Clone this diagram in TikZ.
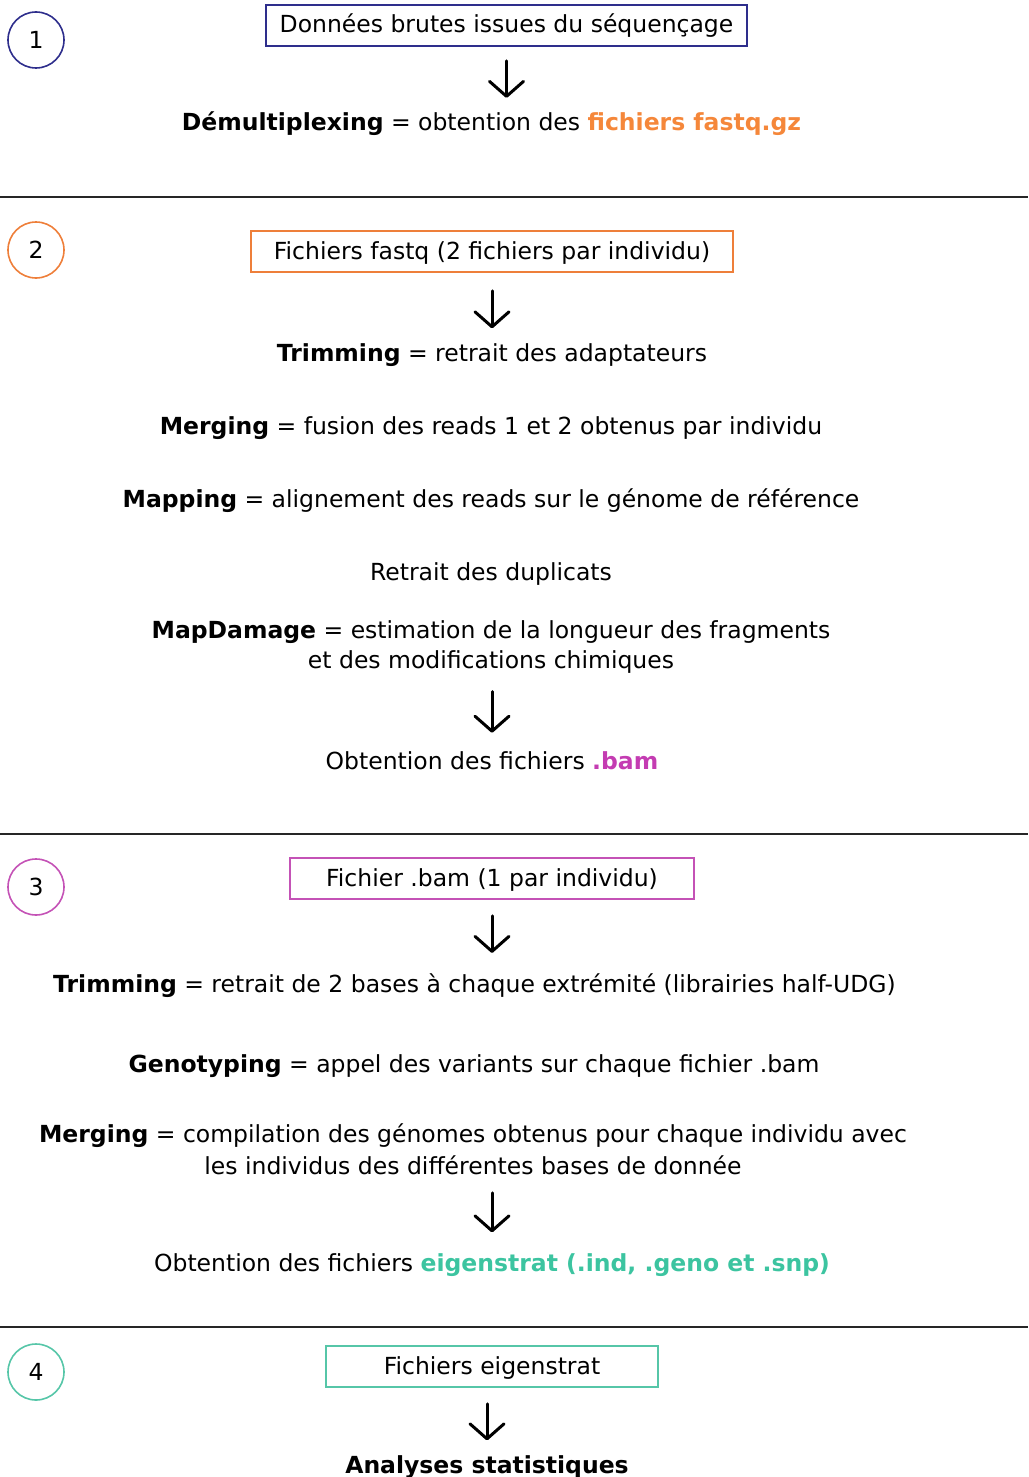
\documentclass[tikz,border=0pt]{standalone}
\usepackage{fontspec}
\setmainfont{DejaVu Sans}
\usetikzlibrary{arrows.meta}
\definecolor{cnavy}{HTML}{2E2E8C}
\definecolor{corange}{HTML}{EE7F3A}
\definecolor{cmag}{HTML}{C452B6}
\definecolor{cteal}{HTML}{56C6A8}
\definecolor{torange}{HTML}{F5873A}
\definecolor{tmag}{HTML}{C43CB2}
\definecolor{tteal}{HTML}{3CC4A0}
\tikzset{
  lab/.style={font=\fontsize{23.5}{30}\selectfont, inner sep=0pt, align=center},
  stagebox/.style={lab, draw, line width=1.6pt, minimum height=41pt, inner xsep=13pt, text height=19pt, text depth=4pt},
  num/.style={circle, draw, line width=1.6pt, minimum size=56pt, inner sep=0pt, font=\fontsize{23.5}{30}\selectfont},
  arr/.style={line width=3pt, line cap=round, -{Straight Barb[length=15pt,width=34pt,round]}},
  sep/.style={line width=1.4pt, draw=black!85}
}
\begin{document}
\begin{tikzpicture}[x=1pt,y=-1pt]
\useasboundingbox (0,0) rectangle (1028,1477);
% separators
\coordinate (l1a) at (0,197); \coordinate (l1b) at (1028,197);
\coordinate (l2a) at (0,834); \coordinate (l2b) at (1028,834);
\coordinate (l3a) at (0,1327); \coordinate (l3b) at (1028,1327);
\draw[sep] (l1a) -- (l1b);
\draw[sep] (l2a) -- (l2b);
\draw[sep] (l3a) -- (l3b);
% section 1
\node[num, draw=cnavy] (c1) at (36,40) {1};
\node[stagebox, draw=cnavy, minimum width=481pt] (b1) at (506.5,25.5) {Données brutes issues du séquençage};
\node[lab] (d1) at (491.5,124) {\textbf{Démultiplexing} = obtention des \textcolor{torange}{\textbf{fichiers fastq.gz}}};
\draw[arr, shorten <=14pt, shorten >=14pt] (b1.south) -- (b1.south |- d1.north);
% section 2
\node[num, draw=corange] (c2) at (36,250) {2};
\node[stagebox, draw=corange, minimum width=482pt] (b2) at (492,251.5) {Fichiers fastq (2 fichiers par individu)};
\node[lab] (t2) at (492,355) {\textbf{Trimming} = retrait des adaptateurs};
\node[lab] (m2) at (491,428) {\textbf{Merging} = fusion des reads 1 et 2 obtenus par individu};
\node[lab] (p2) at (491,501) {\textbf{Mapping} = alignement des reads sur le génome de référence};
\node[lab] (r2) at (491,574) {Retrait des duplicats};
\node[lab] (md) at (491,647) {\textbf{MapDamage} = estimation de la longueur des fragments\\et des modifications chimiques};
\node[lab] (bam) at (492,761) {Obtention des fichiers \textcolor{tmag}{\textbf{.bam}}};
\draw[arr, shorten <=18pt, shorten >=15pt] (b2.south) -- (b2.south |- t2.north);
\draw[arr, shorten <=18pt, shorten >=19pt] (bam.north |- md.south) -- (bam.north);
% section 3
\node[num, draw=cmag] (c3) at (36,887) {3};
\node[stagebox, draw=cmag, minimum width=404pt] (b3) at (492,878.5) {Fichier .bam (1 par individu)};
\node[lab] (t3) at (474.5,986) {\textbf{Trimming} = retrait de 2 bases à chaque extrémité (librairies half-UDG)};
\node[lab] (g3) at (474,1066) {\textbf{Genotyping} = appel des variants sur chaque fichier .bam};
\node[lab] (m3) at (473,1149) {\textbf{Merging} = compilation des génomes obtenus pour chaque individu avec\\[2pt]les individus des différentes bases de donnée};
\node[lab] (e3) at (492,1265) {Obtention des fichiers \textcolor{tteal}{\textbf{eigenstrat (.ind, .geno et .snp)}}};
\draw[arr, shorten <=16pt, shorten >=21pt] (b3.south) -- (b3.south |- t3.north);
\draw[arr, shorten <=18pt, shorten >=21pt] (e3.north |- m3.south) -- (e3.north);
% section 4
\node[num, draw=cteal] (c4) at (36,1372) {4};
\node[stagebox, draw=cteal, minimum width=332pt] (b4) at (492,1366.5) {Fichiers eigenstrat};
\node[lab] (an) at (487,1467) {\textbf{Analyses statistiques}};
\draw[arr, shorten <=16pt, shorten >=15pt] (an.north |- b4.south) -- (an.north);
\end{tikzpicture}
\end{document}
